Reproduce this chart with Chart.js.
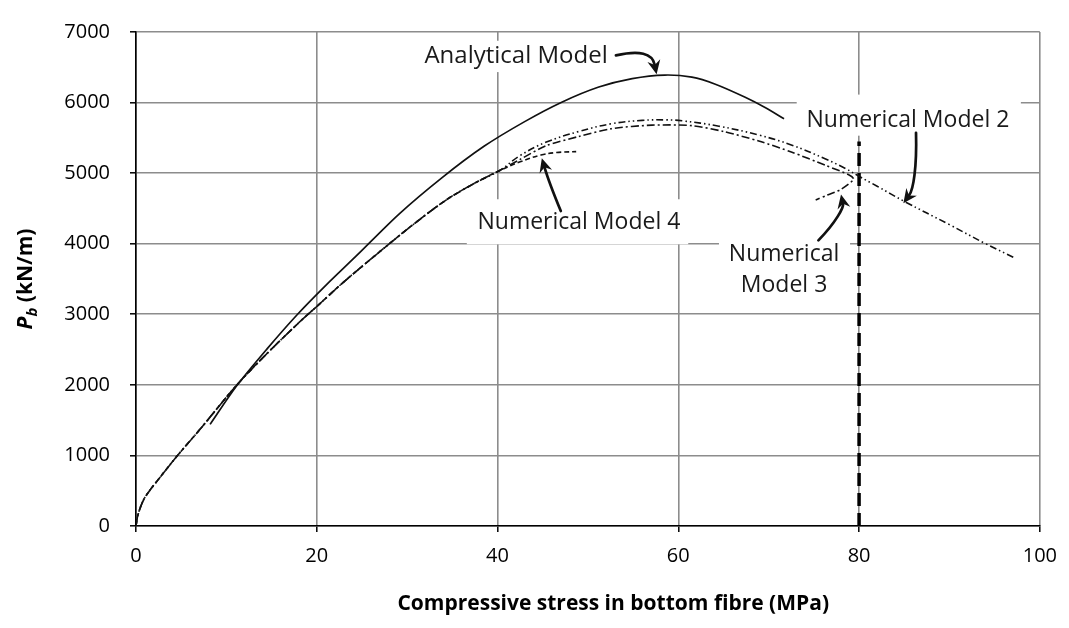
<!DOCTYPE html>
<html>
<head>
<meta charset="utf-8">
<title>Pb versus compressive stress in bottom fibre</title>
<script src="https://cdn.jsdelivr.net/npm/chart.js@4.4.1/dist/chart.umd.min.js"></script>
<style>
  html, body { margin: 0; padding: 0; background: #ffffff; }
  #wrap { width: 1069px; height: 628px; }
</style>
</head>
<body>
<div id="wrap"><canvas id="chart" width="1069" height="628"></canvas></div>
<script>
// ---- Data (stress in MPa, load Pb in kN/m) ----
const analyticalStress = [8.2, 11.1, 14.5, 17.8, 21, 24.4, 29.1, 33.8, 38.5, 43, 47.1, 51.2, 54.9, 58.5, 61.5, 64.1, 67.4, 69.6, 71.7];
const analyticalLoad   = [1440, 1980, 2510, 2990, 3410, 3830, 4420, 4930, 5380, 5730, 6005, 6220, 6340, 6390, 6360, 6260, 6075, 5930, 5770];

// rising branch shared by the numerical models
const riseStress = [0, 0.2, 0.8, 1.5, 2.6, 4.5, 7.1, 11.1, 14.5, 18.3, 20, 23, 27, 30.5, 34.3, 37.5, 40.2];
const riseLoad   = [0, 150, 360, 500, 680, 985, 1373, 1990, 2445, 2915, 3110, 3460, 3890, 4255, 4618, 4860, 5035];

const model2Stress = [42.5, 45.4, 49, 52.6, 56, 58.6, 60.4, 64.5, 68.9, 72.5, 76.3, 78.5, 80, 82, 85, 90, 94, 97.2];
const model2Load   = [5250, 5440, 5590, 5700, 5748, 5755, 5742, 5665, 5540, 5400, 5200, 5065, 4955, 4815, 4600, 4270, 4000, 3800];

const model3Stress = [42.5, 45.4, 49, 52.6, 57.1, 61.5, 65, 68.9, 72.5, 76.3, 78.8, 79.4, 78.0, 76.5, 75.2];
const model3Load   = [5195, 5390, 5520, 5630, 5680, 5673, 5590, 5455, 5300, 5110, 4980, 4915, 4770, 4690, 4620];

const model4Stress = [42.5, 44.8, 46.5, 48.7];
const model4Load   = [5160, 5257, 5292, 5305];

// stress limit marker
const limitStress = [80, 80];
const limitLoad   = [0, 5450];

const xTicks = [0, 20, 40, 60, 80, 100];
const yTicks = [0, 1000, 2000, 3000, 4000, 5000, 6000, 7000];

// ---- helpers ----
function toPoints(xs, ys) { return xs.map((v, i) => ({ x: v, y: ys[i] })); }
function numerical(tailX, tailY) {
  return toPoints(riseStress.concat(tailX), riseLoad.concat(tailY));
}

const FONT = "'Open Sans', 'DejaVu Sans', sans-serif";
const INK = '#111111';

// callout labels with arrows, positioned in data units
const notes = [
  { lines: ['Analytical Model'], size: 24, at: [42.05, 6654], box: [[31.1, 53.0], [6432, 6876]],
    arrow: [[53.1, 6668], [57.0, 6780], [57.6, 6400]] },
  { lines: ['Numerical Model 4'], size: 23, at: [49.0, 4297], box: [[36.6, 61.1], [3992, 4630]],
    arrow: [[47.0, 4463], [45.7, 4866], [44.9, 5212]] },
  { lines: ['Numerical Model 2'], size: 23, at: [85.4, 5753], box: [[73.1, 97.9], [5531, 6113]],
    arrow: [[86.3, 5572], [86.4, 5073], [86.0, 4768], [84.9, 4574]] },
  { lines: ['Numerical', 'Model 3'], size: 23, at: [71.7, 3625], box: [[64.5, 79.0], [3133, 4131]],
    arrow: [[75.5, 4048], [77.5, 4311], [78.3, 4519], [78.0, 4699]] }
];

const xTitle = 'Compressive stress in bottom fibre (MPa)';
const xTitleCentre = 52.8; // stress value under the middle of the axis title

const notePlugin = {
  id: 'notes',
  beforeDatasetsDraw(chart) {
    const { ctx, scales: { x, y } } = chart;
    ctx.save();
    ctx.fillStyle = '#ffffff';
    for (const n of notes) {
      const l = x.getPixelForValue(n.box[0][0]);
      const r = x.getPixelForValue(n.box[0][1]);
      const t = y.getPixelForValue(n.box[1][1]);
      const b = y.getPixelForValue(n.box[1][0]);
      ctx.fillRect(l, t, r - l, b - t);
    }
    ctx.restore();
  },
  afterDatasetsDraw(chart) {
    const { ctx, scales: { x, y } } = chart;
    ctx.save();
    // labels
    ctx.fillStyle = '#1a1a1a';
    ctx.textAlign = 'center';
    ctx.textBaseline = 'middle';
    const lh = 31;
    for (const n of notes) {
      ctx.font = n.size + 'px ' + FONT;
      const cx = x.getPixelForValue(n.at[0]);
      const cy = y.getPixelForValue(n.at[1]);
      const top = cy - (n.lines.length - 1) * lh / 2;
      n.lines.forEach((s, i) => ctx.fillText(s, cx, top + i * lh));
    }
    // arrows
    ctx.strokeStyle = INK;
    ctx.fillStyle = INK;
    ctx.lineWidth = 2.7;
    ctx.lineCap = 'round';
    for (const n of notes) {
      const p = n.arrow.map(q => [x.getPixelForValue(q[0]), y.getPixelForValue(q[1])]);
      const end = p[p.length - 1];
      const prev = p[p.length - 2];
      const ang = Math.atan2(end[1] - prev[1], end[0] - prev[0]);
      const headLen = 14, headW = 6.5;
      const stop = [end[0] - Math.cos(ang) * headLen * 0.7, end[1] - Math.sin(ang) * headLen * 0.7];
      ctx.beginPath();
      ctx.moveTo(p[0][0], p[0][1]);
      if (p.length === 3) {
        ctx.quadraticCurveTo(p[1][0], p[1][1], stop[0], stop[1]);
      } else {
        ctx.bezierCurveTo(p[1][0], p[1][1], p[2][0], p[2][1], stop[0], stop[1]);
      }
      ctx.stroke();
      // arrow head
      const bx = end[0] - Math.cos(ang) * headLen;
      const by = end[1] - Math.sin(ang) * headLen;
      const nx = -Math.sin(ang), ny = Math.cos(ang);
      const notchX = end[0] - Math.cos(ang) * headLen * 0.68;
      const notchY = end[1] - Math.sin(ang) * headLen * 0.68;
      ctx.beginPath();
      ctx.moveTo(end[0], end[1]);
      ctx.lineTo(bx + nx * headW, by + ny * headW);
      ctx.lineTo(notchX, notchY);
      ctx.lineTo(bx - nx * headW, by - ny * headW);
      ctx.closePath();
      ctx.fill();
    }
    ctx.restore();
  },
  afterDraw(chart) {
    const { ctx, chartArea, scales: { x } } = chart;
    // x-axis title
    ctx.save();
    ctx.fillStyle = '#000000';
    ctx.font = 'bold 21px ' + FONT;
    ctx.textAlign = 'center';
    ctx.textBaseline = 'middle';
    ctx.fillText(xTitle, x.getPixelForValue(xTitleCentre), 604);
    ctx.restore();

    // y-axis title with subscript: P_b (kN/m)
    ctx.save();
    ctx.fillStyle = '#000000';
    ctx.textBaseline = 'alphabetic';
    ctx.textAlign = 'left';
    const big = 'bold italic 21px ' + FONT;
    const sub = 'bold italic 15px ' + FONT;
    const rest = 'bold 21px ' + FONT;
    ctx.font = big; const wP = ctx.measureText('P').width;
    ctx.font = sub; const wb = ctx.measureText('b').width;
    ctx.font = rest; const wr = ctx.measureText(' (kN/m)').width;
    const total = wP + wb + wr;
    const cy = (chartArea.top + chartArea.bottom) / 2;
    ctx.translate(32, cy);
    ctx.rotate(-Math.PI / 2);
    let cx = -total / 2;
    ctx.font = big; ctx.fillText('P', cx, 0); cx += wP;
    ctx.font = sub; ctx.fillText('b', cx, 5); cx += wb;
    ctx.font = rest; ctx.fillText(' (kN/m)', cx, 0);
    ctx.restore();
  }
};

const lineBase = { showLine: true, pointRadius: 0, pointHoverRadius: 0, fill: false, borderColor: INK, tension: 0.4 };
const plain = v => String(v);

new Chart(document.getElementById('chart'), {
  type: 'scatter',
  data: {
    datasets: [
      Object.assign({}, lineBase, { label: 'Analytical Model', data: toPoints(analyticalStress, analyticalLoad), borderWidth: 1.7, tension: 0.3 }),
      Object.assign({}, lineBase, { label: 'Numerical Model 2', data: numerical(model2Stress, model2Load), borderWidth: 1.6, borderDash: [7, 3, 1.5, 3, 1.5, 3] }),
      Object.assign({}, lineBase, { label: 'Numerical Model 3', data: numerical(model3Stress, model3Load), borderWidth: 1.6, borderDash: [8, 3, 2, 3], tension: 0.25 }),
      Object.assign({}, lineBase, { label: 'Numerical Model 4', data: numerical(model4Stress, model4Load), borderWidth: 1.6, borderDash: [5, 3] }),
      Object.assign({}, lineBase, { label: 'Limit', data: toPoints(limitStress, limitLoad), borderWidth: 3.5, borderDash: [13, 7], tension: 0, borderColor: '#000000' })
    ]
  },
  options: {
    responsive: false,
    animation: false,
    events: [],
    layout: { padding: { top: 21, right: 27, left: 0, bottom: 0 } },
    plugins: { legend: { display: false }, tooltip: { enabled: false } },
    scales: {
      x: {
        type: 'linear', min: 0, max: 100,
        afterBuildTicks(scale) { scale.ticks = xTicks.map(v => ({ value: v })); },
        afterFit(scale) { scale.height = 102; },
        ticks: { color: '#000000', padding: 12, font: { family: FONT, size: 20 }, maxRotation: 0, callback: plain },
        grid: { color: '#8c8c8c', lineWidth: 1.6, tickLength: 6, tickColor: '#000000', tickWidth: 1.5 },
        border: { color: '#000000', width: 1.6 }
      },
      y: {
        type: 'linear', min: 0, max: 7000,
        afterBuildTicks(scale) { scale.ticks = yTicks.map(v => ({ value: v })); },
        afterFit(scale) { scale.width = 136; },
        ticks: { color: '#000000', padding: 20, font: { family: FONT, size: 20 }, callback: plain },
        grid: { color: '#8c8c8c', lineWidth: 1.6, tickLength: 6, tickColor: '#000000', tickWidth: 1.5 },
        border: { color: '#000000', width: 1.6 }
      }
    }
  },
  plugins: [notePlugin]
});
</script>
</body>
</html>
